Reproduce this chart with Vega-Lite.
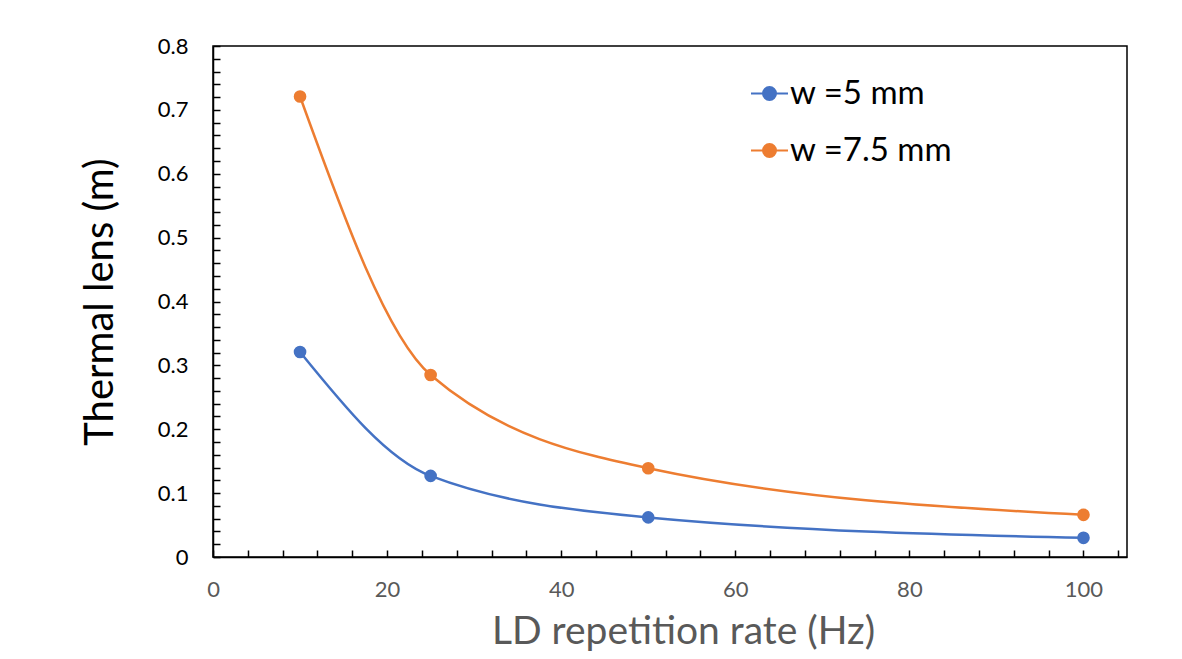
{
  "$schema": "https://vega.github.io/schema/vega-lite/v6.json",
  "width": 914,
  "height": 511,
  "autosize": {"type": "none"},
  "padding": {"left": 213, "top": 46, "right": 55, "bottom": 102},
  "background": "white",
  "config": {
    "font": "Lato",
    "view": {"stroke": "black", "strokeWidth": 1.5}
  },
  "data": {
    "values": [
      {"rate": 10, "lens": 0.321, "series": "w =5 mm"},
      {"rate": 25, "lens": 0.127, "series": "w =5 mm"},
      {"rate": 50, "lens": 0.062, "series": "w =5 mm"},
      {"rate": 100, "lens": 0.030, "series": "w =5 mm"},
      {"rate": 10, "lens": 0.721, "series": "w =7.5 mm"},
      {"rate": 25, "lens": 0.285, "series": "w =7.5 mm"},
      {"rate": 50, "lens": 0.139, "series": "w =7.5 mm"},
      {"rate": 100, "lens": 0.066, "series": "w =7.5 mm"}
    ]
  },
  "layer": [
    {
      "mark": {"type": "line", "interpolate": "monotone", "strokeWidth": 2.5},
      "encoding": {
        "x": {
          "field": "rate", "type": "quantitative",
          "scale": {"domain": [0, 105], "nice": false, "zero": false},
          "axis": {
            "values": [0, 4, 8, 12, 16, 20, 24, 28, 32, 36, 40, 44, 48, 52, 56, 60, 64, 68, 72, 76, 80, 84, 88, 92, 96, 100, 104],
            "tickCount": 200,
            "labelExpr": "datum.value % 20 == 0 ? format(datum.value, 'd') : ''",
            "ticks": true, "tickSize": -7, "tickColor": "black", "tickWidth": 1.5,
            "grid": false,
            "domainColor": "black", "domainWidth": 1.5,
            "labelFont": "Lato", "labelFontSize": 22, "labelColor": "#595959",
            "labelPadding": 29, "labelFlush": false, "labelOverlap": false,
            "title": "LD repetition rate (Hz)", "titleFont": "Lato",
            "titleFontSize": 39, "titleFontWeight": "normal", "titleColor": "#595959",
            "titlePadding": 12, "titleX": 470
          }
        },
        "y": {
          "field": "lens", "type": "quantitative",
          "scale": {"domain": [0, 0.8], "nice": false},
          "axis": {
            "values": [0, 0.02, 0.04, 0.06, 0.08, 0.1, 0.12, 0.14, 0.16, 0.18, 0.2, 0.22, 0.24, 0.26, 0.28, 0.3, 0.32, 0.34, 0.36, 0.38, 0.4, 0.42, 0.44, 0.46, 0.48, 0.5, 0.52, 0.54, 0.56, 0.58, 0.6, 0.62, 0.64, 0.66, 0.68, 0.7, 0.72, 0.74, 0.76, 0.78, 0.8],
            "tickCount": 200,
            "labelExpr": "abs(datum.value * 10 - round(datum.value * 10)) < 0.001 ? format(datum.value, '.1~f') : ''",
            "ticks": true, "tickSize": -7, "tickColor": "black", "tickWidth": 1.5,
            "grid": false,
            "domainColor": "black", "domainWidth": 1.5,
            "labelFont": "Lato", "labelFontSize": 22, "labelColor": "black",
            "labelPadding": 32, "labelOverlap": false,
            "title": "Thermal lens (m)", "titleFont": "Lato",
            "titleFontSize": 40, "titleFontWeight": "normal", "titleColor": "black",
            "titlePadding": 37
          }
        },
        "color": {
          "field": "series", "type": "nominal",
          "scale": {"domain": ["w =5 mm", "w =7.5 mm"], "range": ["#4472C4", "#ED7D31"]},
          "legend": {
            "title": null,
            "orient": "none", "legendX": 537, "legendY": 28,
            "symbolType": "M-1,0H1M0.35,0A0.35,0.35,0,1,1,-0.35,0A0.35,0.35,0,1,1,0.35,0Z",
            "symbolSize": 1369, "symbolStrokeWidth": 2,
            "labelFont": "Lato", "labelFontSize": 33, "labelColor": "black",
            "labelOffset": 1, "rowPadding": 20, "labelLimit": 400
          }
        }
      }
    },
    {
      "mark": {"type": "point", "filled": true, "size": 160, "opacity": 1},
      "encoding": {
        "x": {"field": "rate", "type": "quantitative"},
        "y": {"field": "lens", "type": "quantitative"},
        "color": {"field": "series", "type": "nominal"}
      }
    }
  ]
}
